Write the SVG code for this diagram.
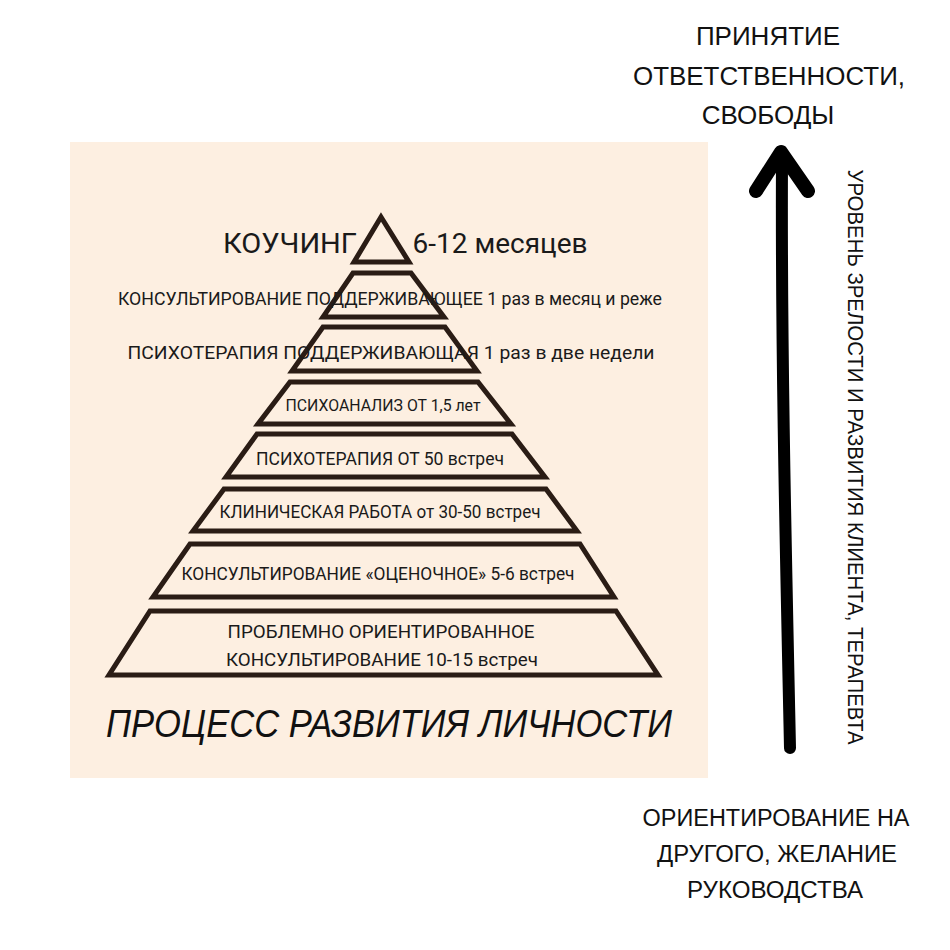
<svg xmlns="http://www.w3.org/2000/svg" width="950" height="950" viewBox="0 0 950 950">
<style>
.lvl{fill:none;stroke:#2a1c15;stroke-width:5;stroke-linejoin:miter}
.pt{font-family:Roboto,"Liberation Sans",sans-serif;fill:#1a1a1a;text-anchor:middle}
.side{font-family:"Liberation Sans",Arial,sans-serif;fill:#111;text-anchor:middle}
.arrow{fill:none;stroke:#000;stroke-linecap:round;stroke-linejoin:round}
</style>
<rect width="950" height="950" fill="#fff"/>
<rect id="panel" x="70" y="142" width="638" height="636" fill="#fdefe1"/>

<g id="level1">
<polygon class="lvl" points="381,217 354,262 409,262"/>
<text class="pt" x="290" y="253" font-size="28" textLength="134" lengthAdjust="spacingAndGlyphs">КОУЧИНГ</text>
<text class="pt" x="500" y="253" font-size="28" textLength="175" lengthAdjust="spacingAndGlyphs">6-12 месяцев</text>
</g>
<g id="level2">
<polygon class="lvl" points="353,273 411,273 444,317 323,317"/>
<text class="pt" x="390" y="305" font-size="18" textLength="544" lengthAdjust="spacingAndGlyphs">КОНСУЛЬТИРОВАНИЕ ПОДДЕРЖИВАЮЩЕЕ 1 раз в месяц и реже</text>
</g>
<g id="level3">
<polygon class="lvl" points="323,327 445,327 477,371 292,371"/>
<text class="pt" x="391" y="359" font-size="18" textLength="527" lengthAdjust="spacingAndGlyphs">ПСИХОТЕРАПИЯ ПОДДЕРЖИВАЮЩАЯ 1 раз в две недели</text>
</g>
<g id="level4">
<polygon class="lvl" points="290,382 478,382 511,424 258,424"/>
<text class="pt" x="383" y="411" font-size="16" textLength="195" lengthAdjust="spacingAndGlyphs">ПСИХОАНАЛИЗ ОТ 1,5 лет</text>
</g>
<g id="level5">
<polygon class="lvl" points="257,434 512,434 545,477 226,477"/>
<text class="pt" x="380" y="465" font-size="18" textLength="248" lengthAdjust="spacingAndGlyphs">ПСИХОТЕРАПИЯ ОТ 50 встреч</text>
</g>
<g id="level6">
<polygon class="lvl" points="224,489 546,489 577,531 193,531"/>
<text class="pt" x="380" y="518" font-size="18" textLength="321" lengthAdjust="spacingAndGlyphs">КЛИНИЧЕСКАЯ РАБОТА от 30-50 встреч</text>
</g>
<g id="level7">
<polygon class="lvl" points="190,544 580,544 614,597 153,597"/>
<text class="pt" x="378" y="580" font-size="18" textLength="393" lengthAdjust="spacingAndGlyphs">КОНСУЛЬТИРОВАНИЕ «ОЦЕНОЧНОЕ» 5-6 встреч</text>
</g>
<g id="level8">
<polygon class="lvl" points="150,611 616,611 658,675 109,675"/>
<text class="pt" x="381" y="638" font-size="19" textLength="307" lengthAdjust="spacingAndGlyphs">ПРОБЛЕМНО ОРИЕНТИРОВАННОЕ</text>
<text class="pt" x="382" y="666" font-size="19" textLength="312" lengthAdjust="spacingAndGlyphs">КОНСУЛЬТИРОВАНИЕ 10-15 встреч</text>
</g>

<g id="title">
<text x="106" y="737" font-family="'Liberation Sans',sans-serif" font-style="italic" font-size="38" fill="#111" textLength="566" lengthAdjust="spacingAndGlyphs">ПРОЦЕСС РАЗВИТИЯ ЛИЧНОСТИ</text>
</g>

<g id="top-label">
<text class="side" x="768" y="45" font-size="26">ПРИНЯТИЕ</text>
<text class="side" x="769" y="85" font-size="26" textLength="272" lengthAdjust="spacingAndGlyphs">ОТВЕТСТВЕННОСТИ,</text>
<text class="side" x="768" y="124" font-size="26">СВОБОДЫ</text>
</g>

<g id="bottom-label">
<text class="side" x="776" y="826" font-size="23" textLength="267" lengthAdjust="spacingAndGlyphs">ОРИЕНТИРОВАНИЕ НА</text>
<text class="side" x="777" y="862" font-size="23" textLength="240" lengthAdjust="spacingAndGlyphs">ДРУГОГО, ЖЕЛАНИЕ</text>
<text class="side" x="775" y="898" font-size="23" textLength="176" lengthAdjust="spacingAndGlyphs">РУКОВОДСТВА</text>
</g>

<g id="axis-label">
<text class="side" transform="translate(848,457) rotate(90)" font-size="22" textLength="575" lengthAdjust="spacingAndGlyphs">УРОВЕНЬ ЗРЕЛОСТИ И РАЗВИТИЯ КЛИЕНТА, ТЕРАПЕВТА</text>
</g>

<g id="connectors">
<path class="arrow" d="M790,748 C786,560 781,350 782,158" stroke-width="12"/>
<path class="arrow" d="M756,191 L781,152 L808,191" stroke-width="14"/>
</g>
</svg>
